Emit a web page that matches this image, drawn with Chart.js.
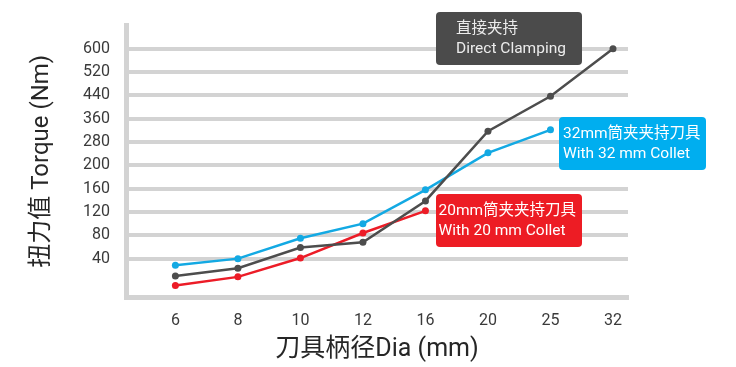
<!DOCTYPE html>
<html>
<head>
<meta charset="utf-8">
<script src="https://cdn.jsdelivr.net/npm/chart.js@4/dist/chart.umd.min.js"></script>
<style>
  html, body { margin: 0; padding: 0; background: #fff; }
  #wrap { width: 736px; height: 367px; }
</style>
</head>
<body>
<div id="wrap"><canvas id="torqueChart" width="736" height="367"></canvas></div>
<script>
const diameters = ['6', '8', '10', '12', '16', '20', '25', '32'];
const torqueTicks = [40, 80, 120, 160, 200, 280, 360, 440, 520, 600];

const directClamping = [22, 30, 59, 68, 139, 317, 437, 600];
const collet32 = [33, 40, 75, 100, 158, 243, 322];
const collet20 = [12, 21, 41, 84, 122];

const FONT = 'Roboto, "Noto Sans", "Noto Sans CJK SC", sans-serif';
const GRID = '#d3d3d3';

// the torque axis is not linear: 0..40 is a taller step, then one step per tick
const FIRST_STEP = 1.645;
function toPos(v) {
  const knots = [0, ...torqueTicks];
  if (v <= knots[1]) return (v / knots[1]) * FIRST_STEP;
  for (let i = 1; i < knots.length - 1; i++) {
    if (v <= knots[i + 1]) {
      return FIRST_STEP + (i - 1) + (v - knots[i]) / (knots[i + 1] - knots[i]);
    }
  }
  return FIRST_STEP + knots.length - 2;
}

function series(values) {
  return values.map((v, i) => ({ x: i, y: toPos(v) }));
}

function lineSet(label, values, color) {
  return {
    label,
    data: series(values),
    borderColor: color,
    backgroundColor: color,
    borderWidth: 2.5,
    pointRadius: 3.5,
    pointBorderWidth: 0,
    pointBackgroundColor: color,
    tension: 0,
  };
}

const notes = [
  { lines: ['直接夹持', 'Direct Clamping'], box: [436, 12, 146, 53], tx: 456, bg: '#4b4b4b', fg: '#ececec' },
  { lines: ['32mm筒夹夹持刀具', 'With 32 mm Collet'], box: [559, 117, 147, 53], tx: 563, bg: '#00aeef', fg: '#ffffff' },
  { lines: ['20mm筒夹夹持刀具', 'With 20 mm Collet'], box: [436, 194, 146, 53], tx: 438.5, bg: '#ed1c24', fg: '#ffffff' },
];

const noteBoxes = {
  id: 'noteBoxes',
  afterDatasetsDraw(chart) {
    const ctx = chart.ctx;
    ctx.save();
    notes.forEach((n) => {
      const [x, y, w, h] = n.box;
      ctx.fillStyle = n.bg;
      ctx.beginPath();
      ctx.roundRect(x, y, w, h, 4);
      ctx.fill();
      ctx.fillStyle = n.fg;
      ctx.font = '15.5px ' + FONT;
      ctx.textBaseline = 'middle';
      ctx.textAlign = 'left';
      ctx.fillText(n.lines[0], n.tx, y + 17);
      ctx.fillText(n.lines[1], n.tx, y + 37);
    });
    ctx.restore();
  },
};

new Chart(document.getElementById('torqueChart'), {
  type: 'line',
  data: {
    datasets: [
      lineSet('直接夹持 Direct Clamping', directClamping, '#4d4d4d'),
      lineSet('32mm筒夹夹持刀具', collet32, '#13a9e3'),
      lineSet('20mm筒夹夹持刀具', collet20, '#ec1c27'),
    ],
  },
  options: {
    responsive: false,
    animation: false,
    devicePixelRatio: 1,
    layout: { padding: { top: 25, right: 108, bottom: 0, left: 0 } },
    plugins: {
      legend: { display: false },
      tooltip: { enabled: false },
    },
    scales: {
      x: {
        type: 'linear',
        min: -0.79,
        max: 7.24,
        afterBuildTicks(scale) {
          scale.ticks = diameters.map((d, i) => ({ value: i }));
        },
        afterFit(scale) {
          scale.height = 70;
        },
        grid: { display: false, drawTicks: false },
        border: { display: true, color: GRID, width: 5 },
        ticks: {
          padding: 14,
          color: '#3a3a3a',
          font: { family: FONT, size: 16 },
          callback: (v, i) => diameters[i],
        },
        title: {
          display: true,
          text: '刀具柄径Dia (mm)',
          color: '#262626',
          font: { family: FONT, size: 25 },
          padding: { top: 0, bottom: 2 },
        },
      },
      y: {
        type: 'linear',
        min: 0,
        max: 11.64,
        afterBuildTicks(scale) {
          scale.ticks = torqueTicks.map((v) => ({ value: toPos(v) }));
        },
        afterFit(scale) {
          scale.width = 126;
        },
        grid: { color: GRID, lineWidth: 4, drawTicks: false },
        border: { display: true, color: GRID, width: 5 },
        ticks: {
          padding: 16,
          color: '#3a3a3a',
          font: { family: FONT, size: 16 },
          callback: (v, i) => torqueTicks[i],
        },
        title: {
          display: true,
          text: '扭力值 Torque (Nm)',
          color: '#262626',
          font: { family: FONT, size: 24 },
          padding: { top: 28, bottom: 0 },
        },
      },
    },
  },
  plugins: [noteBoxes],
});
</script>
</body>
</html>
